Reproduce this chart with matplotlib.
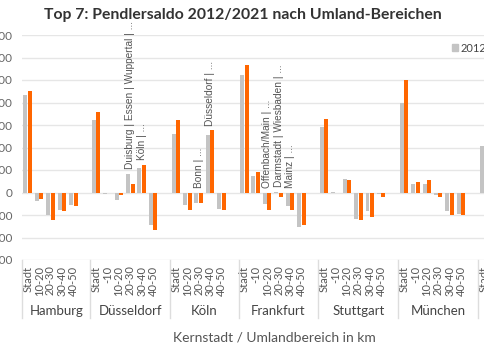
import matplotlib.pyplot as plt
import matplotlib.transforms as mtransforms
from matplotlib.patches import Patch
import numpy as np

# Daten (Pendlersaldo, Personen)
cities = ["Hamburg", "Düsseldorf", "Köln", "Frankfurt", "Stuttgart", "München", ""]
zones = [
    ["Stadt", "10-20", "20-30", "30-40", "40-50"],
    ["Stadt", "-10", "10-20", "20-30", "30-40", "40-50"],
    ["Stadt", "10-20", "20-30", "30-40", "40-50"],
    ["Stadt", "-10", "10-20", "20-30", "30-40", "40-50"],
    ["Stadt", "-10", "10-20", "20-30", "30-40", "40-50"],
    ["Stadt", "-10", "10-20", "20-30", "30-40", "40-50"],
    ["Stadt"],
]
v2012 = [
    [217000, -19300, -50400, -39300, -28200],
    [162200, -3000, -16300, 42200, 54800, -72600],
    [130400, -28200, -23700, 126700, -36300],
    [262200, 37300, -25900, 2000, -30400, -77000],
    [145200, 500, 28900, -58500, -42200, -3700],
    [197800, 17800, 18500, -6000, -42200, -46700],
    [104400],
]
v2021 = [
    [226000, -15500, -61500, -41500, -30400],
    [179300, -1500, -6000, 18500, 62200, -84400],
    [160700, -37800, -22500, 138500, -37800],
    [282900, 46200, -37800, -8900, -38500, -72600],
    [164400, 0, 28100, -60700, -54000, -10400],
    [251100, 24400, 28200, -9600, -49600, -51100],
    [120000],
]
label_city = ["Düsseldorf", "Düsseldorf", "Köln", "Köln", "Frankfurt", "Frankfurt", "Frankfurt"]
label_zone = ["20-30", "30-40", "20-30", "30-40", "10-20", "20-30", "30-40"]
label_text = ["Duisburg | Essen | Wuppertal | ...", "Köln | ...", "Bonn | ...",
              "Düsseldorf | ...", "Offenbach/Main | ...", "Darmstadt | Wiesbaden | ...",
              "Mainz | ..."]

gray = '#c4c4c4'
orange = '#ff6600'

# Kategorien mit Leerplatz nach jeder Gruppe
ticks = []
a = []
b = []
group_start = []
pos = {}
for i in range(len(cities)):
    group_start.append(len(ticks))
    for j in range(len(zones[i])):
        pos[(cities[i], zones[i][j])] = len(ticks)
        ticks.append(zones[i][j])
        a.append(v2012[i][j])
        b.append(v2021[i][j])
    if i < len(cities) - 1:
        ticks.append("")
        a.append(np.nan)
        b.append(np.nan)

x = np.arange(len(ticks))

fig = plt.figure(figsize=(4.85, 3.52), dpi=100)
ax = fig.add_axes([22 / 485, 1 - 260 / 352, 504 / 485, 225 / 352])

ax.bar(x - 0.2, a, width=0.35, color=gray, zorder=3)
ax.bar(x + 0.2, b, width=0.35, color=orange, zorder=3)

ax.set_xlim(-0.5, 43.7)
ax.set_ylim(-150000, 350000)
yt = np.arange(-150000, 350001, 50000)
ax.set_yticks(yt)
ax.set_yticklabels([f"{int(v):,}".replace(",", ".") for v in yt], fontsize=8.5,
                   color='#666666', family='Lato')
ax.tick_params(axis='y', length=0, pad=7)
ax.grid(axis='y', color='#e6e6e6', linewidth=1, zorder=0)
for s in ax.spines.values():
    s.set_visible(False)

ax.set_xticks(x)
ax.set_xticklabels(ticks, rotation=90, fontsize=8, color='#555555', family='Lato')
ax.tick_params(axis='x', length=0, pad=4)

trans = mtransforms.blended_transform_factory(ax.transData, ax.transAxes)
for k in range(len(cities)):
    xs = group_start[k] - 0.5
    ax.plot([xs, xs], [0, -0.258], transform=trans, color='#dddddd', lw=1, clip_on=False)
    if cities[k] != "":
        end = group_start[k + 1] - 0.5
        ax.text((xs + end) / 2, -0.227, cities[k], transform=trans, ha='center', va='center',
                fontsize=9.5, color='#444444', family='Lato')

for i in range(len(label_text)):
    p = pos[(label_city[i], label_zone[i])]
    top = max(0, a[p], b[p])
    ax.annotate(label_text[i], (p, top), xytext=(0, 3), textcoords='offset points',
                rotation=90, ha='center', va='bottom', fontsize=7.3, color='#555555',
                family='Liberation Sans', annotation_clip=False)

fig.text(274 / 485, 1 - 337 / 352, "Kernstadt / Umlandbereich in km", ha='center', va='center',
         fontsize=10, color='#555555', family='Lato')
fig.text(0.5, 1 - 15.5 / 352, "Top 7: Pendlersaldo 2012/2021 nach Umland-Bereichen",
         ha='center', va='center', fontsize=11.3, fontweight='bold', color='#333333', family='Lato')

handles = [Patch(color=gray, label='2012'), Patch(color=orange, label='2021')]
leg = fig.legend(handles=handles, loc='center left', bbox_to_anchor=(452 / 485, 1 - 48 / 352),
                 ncol=2, frameon=False, fontsize=8, handlelength=0.5, handleheight=0.5,
                 handletextpad=0.25, borderpad=0, borderaxespad=0)
for t in leg.get_texts():
    t.set_color('#444444')
    t.set_family('Lato')

plt.savefig("out.png", dpi=100)
